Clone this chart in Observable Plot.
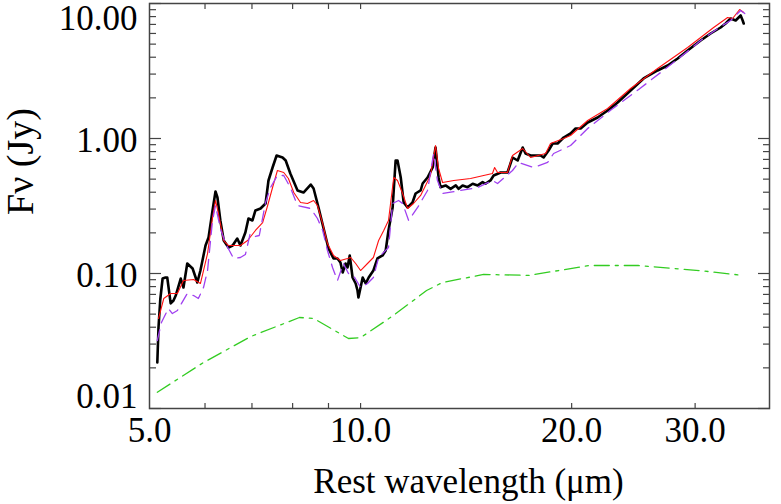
<!DOCTYPE html>
<html><head><meta charset="utf-8">
<script src="https://cdn.jsdelivr.net/npm/d3@7"></script>
<script src="https://cdn.jsdelivr.net/npm/@observablehq/plot@0.6"></script>
<style>html,body{margin:0;padding:0;background:#fff;}</style>
</head><body><div id="chart"></div>
<script>
// Observed spectrum (wavelength µm, flux Jy)
const observed = [
 [5.13,0.0219],[5.15,0.0398],[5.18,0.0642],[5.22,0.0918],[5.27,0.0934],[5.30,0.0934],[5.36,0.0600],[5.41,0.0631],[5.45,0.0687],[5.54,0.0918],
 [5.59,0.0787],[5.66,0.1186],[5.76,0.1089],[5.85,0.0858],[5.91,0.1052],[6.01,0.1612],[6.07,0.1848],[6.15,0.2929],[6.21,0.4050],[6.25,0.3656],
 [6.31,0.2469],[6.38,0.1755],[6.48,0.1558],[6.57,0.1612],[6.67,0.1816],[6.74,0.1612],[6.85,0.2012],[6.92,0.2555],[7.01,0.2469],[7.08,0.2929],
 [7.20,0.3030],[7.32,0.3300],[7.39,0.4886],[7.49,0.6098],[7.59,0.7482],[7.74,0.7232],[7.82,0.6871],[7.94,0.5505],[8.13,0.4120],[8.29,0.3981],
 [8.49,0.4562],[8.57,0.4262],[8.71,0.3083],[8.85,0.2191],[9.00,0.1532],[9.15,0.1292],[9.27,0.1292],[9.36,0.1207],[9.43,0.1017],[9.52,0.1186],
 [9.58,0.1108],[9.65,0.1360],[9.74,0.0934],[9.84,0.0843],[9.90,0.0748],[9.93,0.0664],[10.07,0.0934],[10.17,0.0843],[10.27,0.0934],[10.43,0.1052],
 [10.57,0.1292],[10.75,0.1360],[10.86,0.1481],[10.96,0.2083],[11.11,0.3083],[11.22,0.6871],[11.29,0.6871],[11.41,0.5143],[11.52,0.3357],[11.67,0.3083],
 [11.86,0.3357],[11.98,0.3914],[12.18,0.4120],[12.26,0.4642],[12.46,0.5143],[12.67,0.6098],[12.79,0.8577],[12.92,0.5143],[13.00,0.436],[13.22,0.449],
 [13.44,0.424],[13.67,0.449],[13.80,0.424],[13.98,0.449],[14.21,0.436],[14.45,0.462],[14.69,0.449],[14.93,0.475],[15.07,0.462],[15.32,0.489],
 [15.48,0.532],[15.84,0.560],[16.20,0.560],[16.47,0.7232],[16.75,0.6871],[17.03,0.8577],[17.19,0.7743],[17.48,0.7482],[18.06,0.7482],[18.24,0.7232],
 [18.54,0.8152],[18.79,0.9183],[19.10,0.9183],[19.48,1.017],[19.93,1.089],[20.26,1.186],[20.60,1.186],[21.08,1.314],[21.78,1.431],[22.51,1.612],
 [23.26,1.848],[24.27,2.268],[25.33,2.783],[26.52,3.190],[27.41,3.473],[28.33,3.913],[29.27,4.486],[30.55,5.320],[31.57,5.995],[32.62,6.640],
 [33.16,7.110],[33.71,7.743],[34.27,7.482],[34.84,8.150],[35.07,7.482],[35.19,7.110]
];
// Total model (red)
const modelTotal = [
 [5.15,0.0464],[5.24,0.0653],[5.36,0.0711],[5.48,0.0711],[5.59,0.0887],[5.78,0.0903],[5.91,0.0843],[6.05,0.1406],[6.15,0.2600],[6.21,0.3474],
 [6.27,0.2783],[6.38,0.1755],[6.48,0.1612],[6.74,0.1612],[6.90,0.1755],[7.08,0.2083],[7.25,0.2385],[7.37,0.3190],[7.49,0.4335],[7.61,0.5795],
 [7.77,0.5600],[7.89,0.5055],[8.03,0.3981],[8.21,0.3357],[8.40,0.3300],[8.57,0.3474],[8.68,0.3190],[8.83,0.2345],[8.97,0.1668],[9.15,0.1360],
 [9.36,0.1249],[9.58,0.1292],[9.68,0.1314],[9.84,0.1186],[10.00,0.1052],[10.23,0.1186],[10.43,0.1314],[10.61,0.1755],[10.79,0.2083],[10.96,0.2469],
 [11.15,0.5143],[11.29,0.4886],[11.48,0.3914],[11.67,0.3030],[11.90,0.3300],[12.18,0.3784],[12.58,0.5320],[12.79,0.8872],[12.92,0.5995],[13.09,0.4721],
 [13.58,0.4886],[14.35,0.5055],[14.98,0.5320],[15.42,0.5505],[15.53,0.6098],[15.68,0.5600],[16.20,0.5600],[16.47,0.7482],[17.03,0.8433],[17.48,0.7232],
 [18.36,0.7743],[18.66,0.9183],[19.48,1.000],[19.93,1.053],[21.08,1.359],[22.51,1.668],[24.27,2.346],[26.52,3.300],[29.27,4.722],[30.55,5.600],
 [31.88,6.640],[33.38,7.876],[33.93,7.743],[34.72,9.028],[35.19,8.577]
];
// Second model (purple dashed)
const modelAlt = [
 [5.13,0.0319],[5.20,0.0434],[5.32,0.0550],[5.39,0.0505],[5.48,0.0532],[5.66,0.0711],[5.78,0.0687],[5.87,0.0653],[5.97,0.0787],[6.05,0.1052],
 [6.15,0.2469],[6.21,0.3190],[6.31,0.2154],[6.42,0.1668],[6.59,0.1292],[6.74,0.1314],[6.85,0.1382],[6.96,0.1978],[7.08,0.1880],[7.17,0.1912],
 [7.32,0.3357],[7.44,0.4335],[7.61,0.5320],[7.77,0.5320],[7.94,0.4335],[8.13,0.3190],[8.49,0.3030],[8.68,0.2555],[8.83,0.2083],[8.97,0.1481],
 [9.12,0.1108],[9.27,0.0887],[9.45,0.1186],[9.61,0.1000],[9.77,0.0966],[10.00,0.0787],[10.23,0.0843],[10.43,0.0934],[10.61,0.1314],[10.68,0.1360],
 [10.96,0.1558],[11.11,0.3300],[11.33,0.3474],[11.48,0.3300],[11.71,0.2469],[12.06,0.3083],[12.46,0.4120],[12.71,0.7743],[12.87,0.4886],[13.09,0.3914],
 [13.89,0.4120],[14.69,0.4335],[15.42,0.4886],[15.68,0.4642],[16.47,0.5795],[16.81,0.6643],[17.65,0.6098],[18.48,0.6643],[18.85,0.7743],[19.93,0.8872],
 [21.08,1.186],[22.80,1.640],[24.92,2.307],[27.14,3.245],[29.37,4.486],[30.55,5.320],[32.62,6.754],[33.71,7.482],[34.84,8.873],[35.31,8.433]
];
// Component (green dash-dot)
const component = [
 [5.13,0.0132],[5.97,0.0219],[6.97,0.0341],[8.18,0.0472],[8.57,0.0465],[9.61,0.0330],[10.0,0.0335],[11.14,0.0489],[12.42,0.0748],[13.09,0.0858],
 [14.98,0.0984],[17.37,0.0968],[21.2,0.1146],[24.9,0.1146],[30.5,0.1050],[35.1,0.0968]
];

const xTicks = [6, 7, 8, 9, 10, 20, 30];
const xLabels = [5, 10, 20, 30];
const yMajor = [0.01, 0.1, 1, 10];
const yMinor = [0.02,0.03,0.04,0.05,0.06,0.07,0.08,0.09,0.2,0.3,0.4,0.5,0.6,0.7,0.8,0.9,2,3,4,5,6,7,8,9];
const yLabelsMid = [0.1, 1];
const yLabelTop = [10];
const yLabelBottom = [0.01];
const xTitle = "Rest wavelength (\u03bcm)";
const yTitle = "F\u03bd (Jy)";

const font = "'Liberation Serif', 'Times New Roman', serif";
const axisColor = "#444";
const rows = a => a.map(([w, f]) => ({w, f}));

const chart = Plot.plot({
  width: 781, height: 504,
  marginLeft: 149, marginRight: 12, marginTop: 3, marginBottom: 96,
  style: {fontFamily: font, background: "#fff", color: "#000", overflow: "visible"},
  x: {type: "log", domain: [5, 38.3]},
  y: {type: "log", domain: [0.01, 10]},
  marks: [
    Plot.line(rows(component), {x: "w", y: "f", stroke: "#33cc22", strokeWidth: 1.3, strokeDasharray: "15,6,3,6"}),
    Plot.line(rows(observed), {x: "w", y: "f", stroke: "#000", strokeWidth: 2.6}),
    Plot.line(rows(modelTotal), {x: "w", y: "f", stroke: "#ff1010", strokeWidth: 1.1}),
    Plot.line(rows(modelAlt), {x: "w", y: "f", stroke: "#a040f0", strokeWidth: 1.3, strokeDasharray: "11,7"}),
    // ticks (inward)
    Plot.axisX({anchor: "bottom", ticks: xTicks, tickSize: -5, fill: "none", label: null, stroke: axisColor, strokeWidth: 1.2}),
    Plot.axisX({anchor: "top", ticks: xTicks, tickSize: -5, fill: "none", label: null, stroke: axisColor, strokeWidth: 1.2}),
    Plot.axisY({anchor: "left", ticks: yMajor, tickSize: -12, fill: "none", label: null, stroke: axisColor, strokeWidth: 1.2}),
    Plot.axisY({anchor: "left", ticks: yMinor, tickSize: -7, fill: "none", label: null, stroke: axisColor, strokeWidth: 1.2}),
    Plot.axisY({anchor: "right", ticks: yMajor, tickSize: -12, fill: "none", label: null, stroke: axisColor, strokeWidth: 1.2}),
    Plot.axisY({anchor: "right", ticks: yMinor, tickSize: -7, fill: "none", label: null, stroke: axisColor, strokeWidth: 1.2}),
    // tick labels
    Plot.axisX({anchor: "bottom", ticks: xLabels, tickSize: 0, tickPadding: 9, tickFormat: d3.format(".1f"), fontSize: 35, label: null}),
    Plot.axisY({anchor: "left", ticks: yLabelsMid, tickSize: 0, tickPadding: 12, tickFormat: d3.format(".2f"), fontSize: 35, label: null, dy: 2}),
    Plot.axisY({anchor: "left", ticks: yLabelTop, tickSize: 0, tickPadding: 12, tickFormat: d3.format(".2f"), fontSize: 35, label: null, dy: 15}),
    Plot.axisY({anchor: "left", ticks: yLabelBottom, tickSize: 0, tickPadding: 12, tickFormat: d3.format(".2f"), fontSize: 35, label: null, dy: -12}),
    // titles
    Plot.text([xTitle], {frameAnchor: "bottom", dy: 73, dx: 9, lineAnchor: "middle", fontSize: 35, fill: "#000"}),
    Plot.text([yTitle], {frameAnchor: "left", dx: -129, dy: 9, rotate: -90, lineAnchor: "middle", fontSize: 38, fill: "#000"}),
    Plot.frame({stroke: axisColor, strokeWidth: 1.5})
  ]
});
document.getElementById("chart").append(chart);
</script>
</body></html>
